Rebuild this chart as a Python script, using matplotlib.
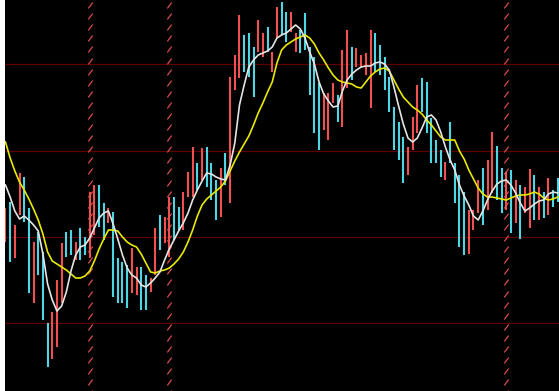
import numpy as np
import matplotlib
matplotlib.use("Agg")
import matplotlib.pyplot as plt
from matplotlib.path import Path

# daily bars: high / low, and whether the day closed up (red) or down (cyan)
high = [19.2, 19.8, 17.5, 22.7, 22.3, 19.2, 15.8, 16.8, 14.8, 7.7,
        8.8, 12.0, 15.7, 16.8, 17.0, 15.8, 17.2, 16.3, 20.8, 21.5,
        21.5, 19.7, 19.2, 18.8, 14.2, 13.8, 13.5, 15.2, 13.3, 13.3,
        12.5, 12.2, 17.2, 18.5, 18.3, 20.3, 20.3, 19.3, 20.8, 22.8,
        25.3, 23.7, 25.2, 25.3, 23.7, 22.0, 23.2, 24.7, 32.3, 34.5,
        38.5, 36.5, 36.7, 35.3, 38.0, 36.7, 37.3, 34.8, 39.3, 39.8,
        38.8, 38.8, 36.7, 37.0, 38.7, 35.3, 34.3, 31.7, 30.7, 30.7,
        31.7, 30.5, 35.0, 37.0, 35.3, 35.2, 34.5, 34.7, 37.0, 36.7,
        35.5, 34.3, 32.3, 29.3, 27.8, 26.3, 25.3, 28.3, 31.5, 32.2,
        31.8, 28.2, 26.0, 25.0, 23.8, 27.8, 23.7, 22.5, 20.8, 19.0,
        19.0, 22.0, 23.2, 24.0, 26.8, 25.4, 23.2, 22.8, 23.0, 22.0,
        21.5, 21.3, 23.1, 22.5, 21.3, 20.8, 22.2, 21.0, 22.2]
low = [15.8, 13.8, 14.2, 18.5, 17.8, 10.7, 9.7, 12.5, 8.0, 3.3,
       4.1, 5.3, 9.7, 14.3, 14.5, 14.0, 14.0, 14.5, 14.2, 16.5,
       17.3, 16.0, 17.7, 10.3, 9.7, 9.7, 9.2, 10.7, 10.5, 9.0,
       9.0, 10.8, 12.5, 15.0, 15.7, 14.3, 16.0, 17.0, 17.0, 20.3,
       20.3, 21.0, 22.0, 21.3, 20.0, 18.0, 18.3, 21.5, 19.7, 31.0,
       32.2, 32.8, 32.3, 30.3, 34.8, 34.3, 34.8, 32.8, 36.2, 36.5,
       35.8, 36.8, 34.8, 34.7, 35.0, 30.5, 26.7, 25.0, 27.0, 26.0,
       29.7, 27.8, 27.3, 31.2, 32.0, 33.3, 33.3, 32.5, 29.2, 32.8,
       32.5, 31.0, 28.8, 25.0, 24.0, 21.7, 22.5, 25.0, 26.7, 28.8,
       26.7, 23.7, 23.7, 22.3, 22.0, 23.7, 19.7, 15.3, 14.5, 14.6,
       17.0, 18.7, 17.5, 19.0, 20.7, 20.0, 18.7, 19.0, 16.7, 17.7,
       16.1, 18.7, 17.2, 18.0, 18.0, 18.2, 18.5, 19.3, 19.8]
up = [1, 0, 1, 1, 0, 0, 1, 0, 0, 0,
      1, 1, 1, 0, 0, 1, 0, 0, 1, 1,
      0, 0, 1, 0, 0, 0, 0, 1, 1, 0,
      0, 1, 1, 0, 1, 1, 0, 0, 1, 1,
      1, 0, 1, 0, 0, 0, 1, 0, 1, 1,
      1, 0, 0, 0, 1, 1, 0, 1, 1, 0,
      0, 1, 1, 0, 0, 0, 0, 0, 1, 1,
      1, 0, 1, 1, 0, 1, 1, 1, 1, 0,
      0, 0, 0, 0, 0, 0, 1, 1, 1, 0,
      0, 0, 0, 0, 1, 0, 0, 0, 0, 1,
      1, 1, 0, 1, 1, 0, 0, 1, 0, 1,
      0, 1, 1, 0, 1, 0, 1, 0, 0]

# short (white) and long (yellow) moving averages
ma_short = [21.5, 20.3, 18.9, 18.1, 18.4, 18.0, 17.5, 16.9, 14.6, 11.6,
            10.0, 8.9, 9.4, 10.8, 12.9, 14.5, 15.3, 15.5, 16.2, 17.2,
            18.2, 18.7, 18.9, 17.6, 16.1, 14.5, 13.2, 12.5, 12.2, 11.5,
            11.3, 11.7, 12.2, 12.8, 14.0, 15.1, 16.0, 16.9, 17.7, 18.7,
            20.0, 21.0, 21.9, 22.7, 22.6, 22.3, 22.1, 22.0, 23.5, 25.7,
            29.5, 31.5, 33.3, 34.0, 34.5, 34.7, 34.9, 35.3, 36.2, 36.5,
            36.7, 37.1, 37.5, 37.1, 36.2, 34.8, 33.6, 31.8, 30.6, 29.9,
            29.3, 29.4, 30.9, 32.0, 32.6, 33.0, 33.3, 33.4, 33.4, 33.7,
            33.8, 33.6, 33.0, 31.3, 29.4, 27.6, 26.2, 25.8, 26.2, 27.2,
            28.3, 28.5, 28.0, 26.8, 25.3, 24.0, 23.0, 21.5, 20.4, 19.5,
            18.4, 18.0, 18.9, 20.0, 20.9, 21.6, 21.9, 22.0, 21.5, 20.7,
            19.7, 18.9, 19.2, 19.6, 19.9, 20.0, 20.6, 20.8, 20.7]
ma_long = [25.8, 24.2, 22.9, 21.8, 21.0, 20.1, 19.1, 18.0, 16.6, 14.8,
           13.9, 13.6, 13.3, 13.0, 12.6, 12.2, 12.2, 12.4, 12.9, 13.9,
           15.1, 16.1, 17.0, 17.0, 16.9, 16.3, 15.8, 15.5, 15.3, 14.6,
           13.7, 12.8, 12.7, 12.9, 13.0, 13.2, 13.6, 14.1, 14.8, 15.8,
           17.0, 18.4, 19.5, 20.1, 20.5, 20.9, 21.3, 21.9, 22.9, 23.9,
           24.8, 25.6, 26.4, 27.5, 28.7, 29.7, 30.8, 31.8, 33.7, 35.0,
           35.5, 35.8, 36.1, 36.3, 36.5, 36.2, 35.6, 34.7, 34.0, 33.2,
           32.5, 32.0, 31.8, 31.7, 31.6, 31.3, 31.2, 31.8, 32.4, 32.8,
           33.1, 33.2, 32.9, 32.0, 31.1, 30.3, 29.8, 29.3, 29.0, 28.6,
           28.0, 27.5, 26.9, 26.3, 26.0, 26.0, 26.0, 24.9, 24.1, 23.0,
           22.1, 21.2, 20.6, 20.3, 20.3, 20.2, 20.1, 20.0, 20.2, 20.4,
           20.5, 20.5, 20.6, 20.8, 20.6, 20.2, 20.0, 20.1, 20.3]

grid_levels = [7.7, 16.3, 24.9, 33.6]
marker_days = [18, 35, 107]

RED, CYAN = '#f05050', '#4fd6e4'

fig = plt.figure(figsize=(5.59, 3.91), dpi=100, facecolor='white')
ax = fig.add_axes([5 / 559, 0, 554 / 559, 1])
ax.set_facecolor('black')

for lv in grid_levels:
    ax.axhline(lv, color='#5c0000', lw=0.9, zorder=1)

# dashed day markers drawn as a column of short slashes
slash = Path([(-0.6, -0.8), (0.6, 0.8)], [Path.MOVETO, Path.LINETO])
ys = np.arange(39.5, 0.5, -1.11)
for d in marker_days:
    ax.plot(np.full_like(ys, d), ys, ls='none', marker=slash, ms=4.2,
            mec='#d84c4c', mew=0.9, zorder=2)

x = np.arange(len(high))
cols = [RED if u else CYAN for u in up]
ax.vlines(x, low, high, colors=cols, lw=1.5, zorder=3)

ax.plot(x, ma_long, color='#e8e800', lw=1.2, zorder=4)
ax.plot(x, ma_short, color='#e4e4e4', lw=1.2, zorder=5)

ax.set_xlim(-0.1, 118.27)
ax.set_ylim(0.9, 40)
ax.set_xticks([]); ax.set_yticks([])
for s in ax.spines.values():
    s.set_visible(False)

fig.savefig('out.png', dpi=100, facecolor=fig.get_facecolor())
